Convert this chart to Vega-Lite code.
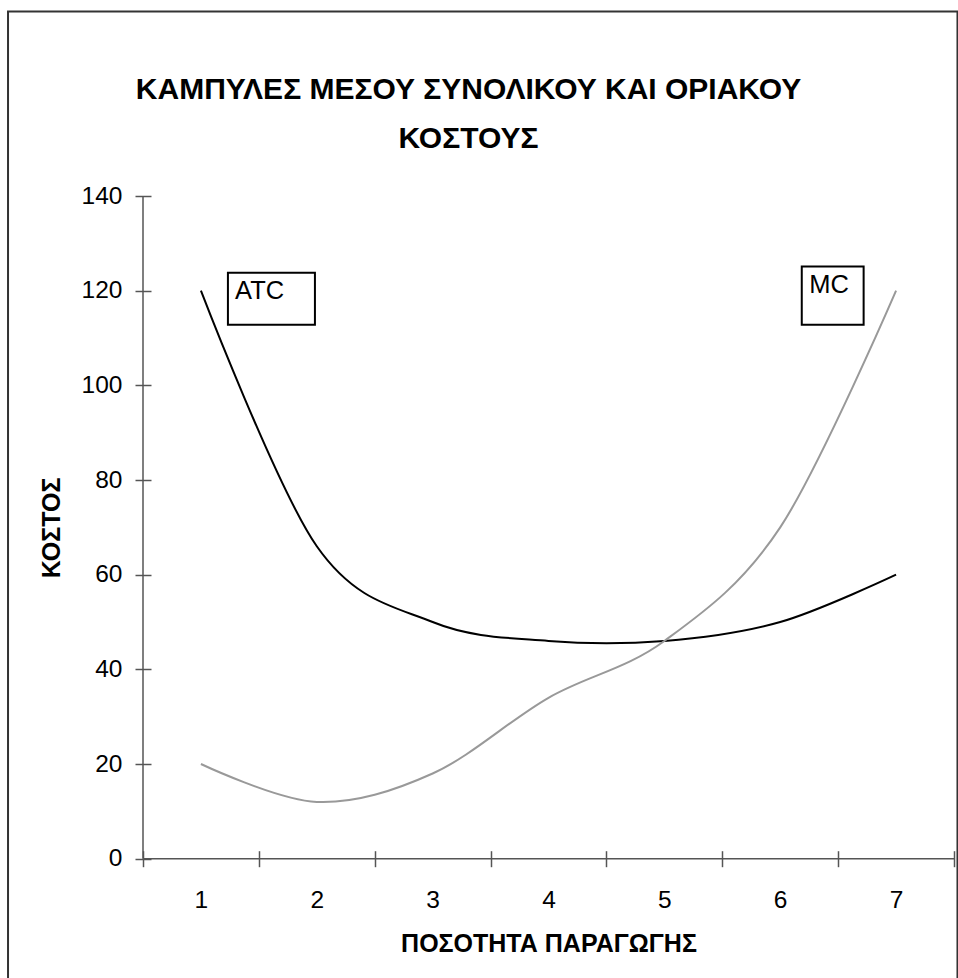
{
  "$schema": "https://vega.github.io/schema/vega-lite/v6.json",
  "width": 811,
  "height": 662.7,
  "autosize": {"type": "none"},
  "padding": {"left": 143, "top": 196, "right": 4, "bottom": 119.3},
  "background": "white",
  "title": {
    "text": ["ΚΑΜΠΥΛΕΣ ΜΕΣΟΥ ΣΥΝΟΛΙΚΟΥ ΚΑΙ ΟΡΙΑΚΟΥ", "ΚΟΣΤΟΥΣ"],
    "font": "Liberation Sans",
    "fontSize": 30,
    "fontWeight": "bold",
    "color": "black",
    "anchor": "middle",
    "offset": -144,
    "lineHeight": 49,
    "dx": -80
  },
  "data": {
    "values": [
      {"q": 1, "series": "ATC", "cost": 120},
      {"q": 2, "series": "ATC", "cost": 66},
      {"q": 3, "series": "ATC", "cost": 50},
      {"q": 4, "series": "ATC", "cost": 46},
      {"q": 5, "series": "ATC", "cost": 46},
      {"q": 6, "series": "ATC", "cost": 50},
      {"q": 7, "series": "ATC", "cost": 60},
      {"q": 1, "series": "MC", "cost": 20},
      {"q": 2, "series": "MC", "cost": 12},
      {"q": 3, "series": "MC", "cost": 18},
      {"q": 4, "series": "MC", "cost": 34},
      {"q": 5, "series": "MC", "cost": 46},
      {"q": 6, "series": "MC", "cost": 70},
      {"q": 7, "series": "MC", "cost": 120}
    ]
  },
  "layer": [
    {
      "data": {"values": [{}]},
      "mark": {"type": "rect", "fill": "white", "fillOpacity": 0, "stroke": "#333333", "strokeWidth": 2, "clip": false},
      "encoding": {
        "x": {"datum": -0.665, "type": "quantitative"},
        "x2": {"datum": 7.53},
        "y": {"datum": 179, "type": "quantitative"},
        "y2": {"datum": -30}
      }
    },
    {
      "data": {"values": [{}]},
      "mark": {"type": "rule", "color": "#555555", "strokeWidth": 1.5},
      "encoding": {
        "x": {"datum": 0.5, "type": "quantitative"},
        "y": {"datum": 0, "type": "quantitative"},
        "y2": {"datum": 140}
      }
    },
    {
      "data": {"values": [{}]},
      "mark": {"type": "rule", "color": "#555555", "strokeWidth": 1.5},
      "encoding": {
        "x": {"datum": 0.5, "type": "quantitative"},
        "x2": {"datum": 7.5},
        "y": {"datum": 0, "type": "quantitative"}
      }
    },
    {
      "mark": {"type": "line", "interpolate": "cardinal", "tension": 0, "strokeWidth": 2},
      "encoding": {
        "x": {
          "field": "q",
          "type": "quantitative",
          "scale": {"domain": [0.5, 7.5], "nice": false, "zero": false},
          "axis": {
            "values": [0.5, 1.5, 2.5, 3.5, 4.5, 5.5, 6.5, 7.5],
            "labelExpr": "datum.value < 7 ? format(datum.value + 0.5, 'd') : ''",
            "labelOffset": 57.9,
            "labelFlush": false,
            "labelBound": false,
            "labelOverlap": false,
            "domain": false,
            "grid": false,
            "offset": -8,
            "tickSize": 16,
            "tickColor": "#555555",
            "tickWidth": 1.5,
            "labelPadding": 22,
            "labelFont": "Liberation Sans",
            "labelFontSize": 24.5,
            "labelColor": "black",
            "title": "ΠΟΣΟΤΗΤΑ ΠΑΡΑΓΩΓΗΣ",
            "titleFont": "Liberation Sans",
            "titleFontSize": 25,
            "titleFontWeight": "bold",
            "titleColor": "black",
            "titlePadding": 19
          }
        },
        "y": {
          "field": "cost",
          "type": "quantitative",
          "scale": {"domain": [0, 140], "nice": false},
          "axis": {
            "values": [0, 20, 40, 60, 80, 100, 120, 140],
            "domain": false,
            "grid": false,
            "offset": -8,
            "tickSize": 16,
            "tickColor": "#555555",
            "tickWidth": 1.5,
            "labelPadding": 13,
            "labelFont": "Liberation Sans",
            "labelFontSize": 24.5,
            "labelColor": "black",
            "title": "ΚΟΣΤΟΣ",
            "titleFont": "Liberation Sans",
            "titleFontSize": 25,
            "titleFontWeight": "bold",
            "titleColor": "black",
            "titlePadding": 17
          }
        },
        "color": {
          "field": "series",
          "type": "nominal",
          "scale": {"domain": ["ATC", "MC"], "range": ["#000000", "#999999"]},
          "legend": null
        }
      }
    },
    {
      "data": {"values": [{}]},
      "mark": {"type": "rect", "fill": "white", "stroke": "black", "strokeWidth": 2},
      "encoding": {
        "x": {"datum": 1.233, "type": "quantitative"},
        "x2": {"datum": 1.984},
        "y": {"datum": 112.8, "type": "quantitative"},
        "y2": {"datum": 123.8}
      }
    },
    {
      "data": {"values": [{}]},
      "mark": {"type": "rect", "fill": "white", "stroke": "black", "strokeWidth": 2},
      "encoding": {
        "x": {"datum": 6.186, "type": "quantitative"},
        "x2": {"datum": 6.72},
        "y": {"datum": 112.8, "type": "quantitative"},
        "y2": {"datum": 125.1}
      }
    },
    {
      "data": {"values": [{}]},
      "mark": {"type": "text", "text": "ATC", "align": "left", "baseline": "alphabetic", "font": "Liberation Sans", "fontSize": 25.5, "fontWeight": "normal", "fill": "black"},
      "encoding": {
        "x": {"datum": 1.295, "type": "quantitative"},
        "y": {"datum": 118.3, "type": "quantitative"}
      }
    },
    {
      "data": {"values": [{}]},
      "mark": {"type": "text", "text": "MC", "align": "left", "baseline": "alphabetic", "font": "Liberation Sans", "fontSize": 25.5, "fontWeight": "normal", "fill": "black"},
      "encoding": {
        "x": {"datum": 6.25, "type": "quantitative"},
        "y": {"datum": 119.6, "type": "quantitative"}
      }
    }
  ],
  "config": {
    "view": {"stroke": null}
  }
}
